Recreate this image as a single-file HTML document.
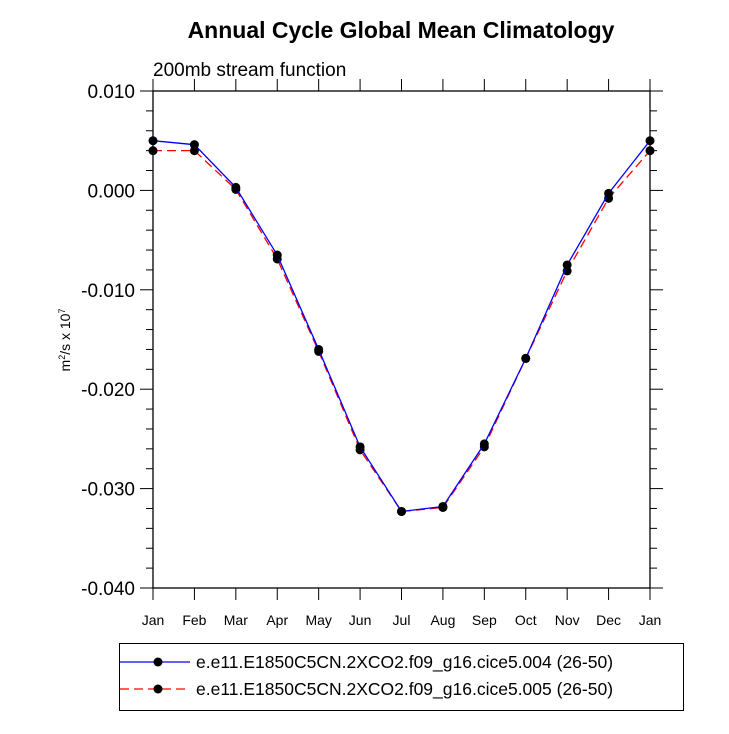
<!DOCTYPE html>
<html><head><meta charset="utf-8"><style>
body{margin:0;background:#fff;}
svg text{font-family:"Liberation Sans",sans-serif;}
</style></head><body>
<svg width="729" height="729" viewBox="0 0 729 729">
<text x="401" y="38" text-anchor="middle" font-size="23" font-weight="bold">Annual Cycle Global Mean Climatology</text>
<text x="153" y="76" font-size="19">200mb stream function</text>
<text transform="translate(70,340) rotate(-90)" text-anchor="middle" font-size="14">m<tspan dy="-5" font-size="9">2</tspan><tspan dy="5">/s x 10</tspan><tspan dy="-5" font-size="9">7</tspan></text>
<g id="axes"></g>
<g id="series"></g>
<g>
<rect x="119.5" y="643.5" width="564" height="67" fill="none" stroke="#000" stroke-width="1"/>
<line x1="120" y1="662" x2="190" y2="662" stroke="#00f" stroke-width="1.3"/>
<circle cx="158" cy="662" r="4.5" fill="#000"/>
<text x="196" y="668" font-size="17.5">e.e11.E1850C5CN.2XCO2.f09_g16.cice5.004 (26-50)</text>
<line x1="120" y1="689" x2="190" y2="689" stroke="#f00" stroke-width="1.3" stroke-dasharray="9,5"/>
<circle cx="158" cy="689" r="4.5" fill="#000"/>
<text x="196" y="695" font-size="17.5">e.e11.E1850C5CN.2XCO2.f09_g16.cice5.005 (26-50)</text>
</g>
</svg>
<script>
const months=["Jan","Feb","Mar","Apr","May","Jun","Jul","Aug","Sep","Oct","Nov","Dec","Jan"];
const series004=[0.0050,0.0046,0.0003,-0.0065,-0.0160,-0.0258,-0.0323,-0.0318,-0.0255,-0.0169,-0.0075,-0.0003,0.0050];
const series005=[0.0040,0.0040,0.0001,-0.0069,-0.0162,-0.0261,-0.0323,-0.0319,-0.0258,-0.0169,-0.0081,-0.0008,0.0040];
const yTicks=[0.010,0.000,-0.010,-0.020,-0.030,-0.040];
const yTickLabels=["0.010","0.000","-0.010","-0.020","-0.030","-0.040"];
const NS="http://www.w3.org/2000/svg";
const L=153,R=650,T=91,B=588,yMax=0.010,yMin=-0.040;
const xs=i=>L+(R-L)*i/(months.length-1);
const ys=v=>T+(yMax-v)/(yMax-yMin)*(B-T);
function mk(tag,attrs,parent){const e=document.createElementNS(NS,tag);for(const k in attrs)e.setAttribute(k,attrs[k]);parent.appendChild(e);return e;}
const ax=document.getElementById('axes');
const frame=mk('rect',{x:L,y:T,width:R-L,height:B-T,fill:'none',stroke:'#000','stroke-width':1.3},ax);


for(let v=yMin;v<=yMax+1e-9;v+=0.002){
  const y=ys(v);const major=Math.abs(Math.round(v*1000)%10)===0;
  const len=major?13:7;
  const t=mk('line',{x1:L-len,y1:y,x2:L,y2:y,stroke:'#000','stroke-width':1},ax);
  
  
  mk('line',{x1:R,y1:y,x2:R+len,y2:y,stroke:'#000','stroke-width':1},ax);
}
yTicks.forEach((v,i)=>{
  const t=mk('text',{x:L-18,y:ys(v)+7,'text-anchor':'end','font-size':19},ax);
  t.textContent=yTickLabels[i];
  
  
});
months.forEach((m,i)=>{
  const x=xs(i);
  mk('line',{x1:x,y1:B,x2:x,y2:B+12,stroke:'#000','stroke-width':1},ax);
  mk('line',{x1:x,y1:T,x2:x,y2:T-12,stroke:'#000','stroke-width':1},ax);
  const t=mk('text',{x:x,y:B+37,'text-anchor':'middle','font-size':14},ax);
  t.textContent=m;
  
  
});
const sg=document.getElementById('series');
function draw(data,color,dash,name){
  const g=mk('g',{},sg);
  
  
  const p=mk('polyline',{points:data.map((v,i)=>xs(i)+','+ys(v)).join(' '),fill:'none',stroke:color,'stroke-width':1.3},g);
  if(dash)p.setAttribute('stroke-dasharray',dash);
  data.forEach((v,i)=>{
    const c=mk('circle',{cx:xs(i),cy:ys(v),r:4.5,fill:'#000'},g);
    
    
  });
}
draw(series005,'#f00','9,5','series-005');
draw(series004,'#00f',null,'series-004');
</script>
</body></html>
